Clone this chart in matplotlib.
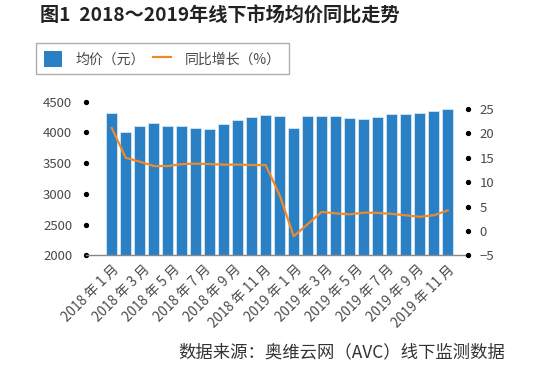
import numpy as np
import matplotlib
matplotlib.use('Agg')
import matplotlib.pyplot as plt
from matplotlib.patches import Patch
from matplotlib.lines import Line2D

plt.rcParams['font.family'] = ['Noto Sans CJK SC', 'DejaVu Sans']

# monthly data, 2018-01 .. 2020-01
avg_price = [4310, 4000, 4110, 4150, 4110, 4110, 4070, 4050, 4140, 4200, 4245, 4285,
             4260, 4070, 4260, 4270, 4270, 4240, 4215, 4255, 4305, 4305, 4320, 4350, 4385]
yoy_growth = [21.1, 15.0, 14.2, 13.3, 13.3, 13.7, 13.8, 13.7, 13.6, 13.6, 13.5, 13.5,
              7.3, -1.1, 1.4, 3.9, 3.6, 3.4, 3.75, 3.7, 3.5, 3.2, 2.9, 3.2, 4.2]
tick_labels = ['2018 年 1 月', '2018 年 3 月', '2018 年 5 月', '2018 年 7 月',
               '2018 年 9 月', '2018 年 11 月', '2019 年 1 月', '2019 年 3 月',
               '2019 年 5 月', '2019 年 7 月', '2019 年 9 月', '2019 年 11 月']
left_ticks = [2000, 2500, 3000, 3500, 4000, 4500]
right_ticks = [-5, 0, 5, 10, 15, 20, 25]

bar_color = '#2A80C4'
line_color = '#EE8A2E'
text_color = '#4a4a4a'

fig = plt.figure(figsize=(5.5, 3.68), dpi=100)
ax = fig.add_axes([86 / 550, 1 - 255.3 / 368, (468 - 86) / 550, (255.3 - 101.7) / 368])

x = np.arange(len(avg_price))
ax.bar(x, avg_price, width=0.8, color=bar_color, edgecolor='#d6e6f3', linewidth=0.6)
ax.set_xlim(-1.84, 25.45)
ax.set_ylim(2000, 4500)
ax.set_yticks(left_ticks)
ax.set_xticks(np.linspace(0, len(avg_price) - 1, len(tick_labels)))
ax.set_xticklabels(tick_labels, rotation=45, ha='right', va='top', rotation_mode='anchor',
                   fontsize=9.8, color=text_color)
ax.tick_params(axis='x', length=0, pad=5)
ax.tick_params(axis='y', length=3, pad=7, labelsize=9.5, labelcolor=text_color)
for t in ax.yaxis.get_major_ticks():
    t.tick1line.set_marker('o')
    t.tick1line.set_markersize(3)
    t.tick1line.set_markerfacecolor('black')
    t.tick1line.set_markeredgecolor('black')
for s in ['top', 'left', 'right']:
    ax.spines[s].set_visible(False)
ax.spines['bottom'].set_color('#888888')
ax.spines['bottom'].set_linewidth(1)

ax2 = ax.twinx()
ax2.plot(x, yoy_growth, color=line_color, linewidth=1.6)
ax2.set_ylim(-5, 26.5)
ax2.set_yticks(right_ticks)
ax2.set_yticklabels(['−5' if v < 0 else str(v) for v in right_ticks])
ax2.tick_params(axis='y', length=3, pad=5.5, labelsize=9.5, labelcolor=text_color)
for t in ax2.yaxis.get_major_ticks():
    t.tick2line.set_marker('o')
    t.tick2line.set_markersize(3)
    t.tick2line.set_markerfacecolor('black')
    t.tick2line.set_markeredgecolor('black')
for s in ax2.spines.values():
    s.set_visible(False)

fig.text(40 / 550, 1 - 16 / 368, '图1  2018～2019年线下市场均价同比走势',
         fontsize=13.8, fontweight='bold', color='#222222', va='center', ha='left')

handles = [Patch(facecolor=bar_color, edgecolor='none'),
           Line2D([0], [0], color=line_color, linewidth=1.6)]
leg = fig.legend(handles, ['均价（元）', '同比增长（%）'], loc='upper left',
                 bbox_to_anchor=(36 / 550, 1 - 43 / 368), ncol=2, fontsize=10,
                 frameon=True, fancybox=False, borderaxespad=0, borderpad=0.55,
                 handlelength=1.3, handleheight=1.4,
                 columnspacing=0.6, handletextpad=1.0, labelcolor=text_color)
leg.get_frame().set_edgecolor('#999999')
leg.get_frame().set_linewidth(1)

fig.text(505 / 550, 1 - 352 / 368, '数据来源：奥维云网（AVC）线下监测数据',
         fontsize=12.5, color='#333333', ha='right', va='center')

fig.savefig('out.png', dpi=100)
